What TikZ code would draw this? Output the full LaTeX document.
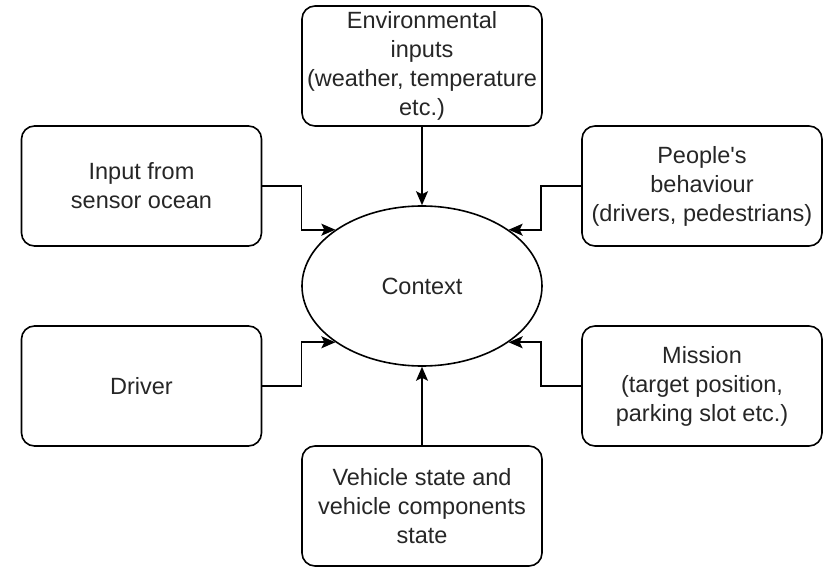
\documentclass[tikz,border=0pt]{standalone}
\usepackage{fontspec}
\setmainfont{Liberation Sans}
\newfontfamily\plainarial{Liberation Sans}
\usetikzlibrary{arrows.meta,shapes.geometric}
\begin{document}
\begin{tikzpicture}[x=1pt,y=-1pt,
  box/.style={draw, line width=1.6pt, rounded corners=13pt, minimum width=240pt, minimum height=120pt, align=center, inner sep=0pt, font=\plainarial\fontsize{23.5}{29}\selectfont, text=black!85},
  ctxstyle/.style={draw, ellipse, line width=1.6pt, minimum width=240pt, minimum height=160pt, inner sep=0pt, font=\plainarial\fontsize{23.5}{29}\selectfont, text=black!85},
  arr/.style={line width=1.6pt, -{Stealth[length=14pt,width=12pt,inset=3pt]}}]
\useasboundingbox (0,0) rectangle (825,567);
\node[ctxstyle] (ctx) at (422,286) {Context};
\node[box] (env) at (422,66) {Environmental\\inputs\\(weather, temperature\\etc.)};
\node[box] (sen) at (141.5,186) {Input from\\sensor ocean};
\node[box] (ppl) at (702,186) {People's\\behaviour\\(drivers, pedestrians)};
\node[box] (drv) at (141.5,386) {Driver};
\node[box] (mis) at (702,386) {Mission\\(target position,\\parking slot etc.)};
\node[box] (veh) at (422,506) {Vehicle state and\\vehicle components\\state};
\draw[arr] (env.south) -- (ctx.north);
\draw[arr] (veh.north) -- (ctx.south);
\draw[arr] (sen.east) -- ++(39,0) |- (ctx.147);
\draw[arr] (ppl.west) -- ++(-40,0) |- (ctx.33);
\draw[arr] (drv.east) -- ++(39,0) |- (ctx.-147);
\draw[arr] (mis.west) -- ++(-40,0) |- (ctx.-33);
\end{tikzpicture}
\end{document}
